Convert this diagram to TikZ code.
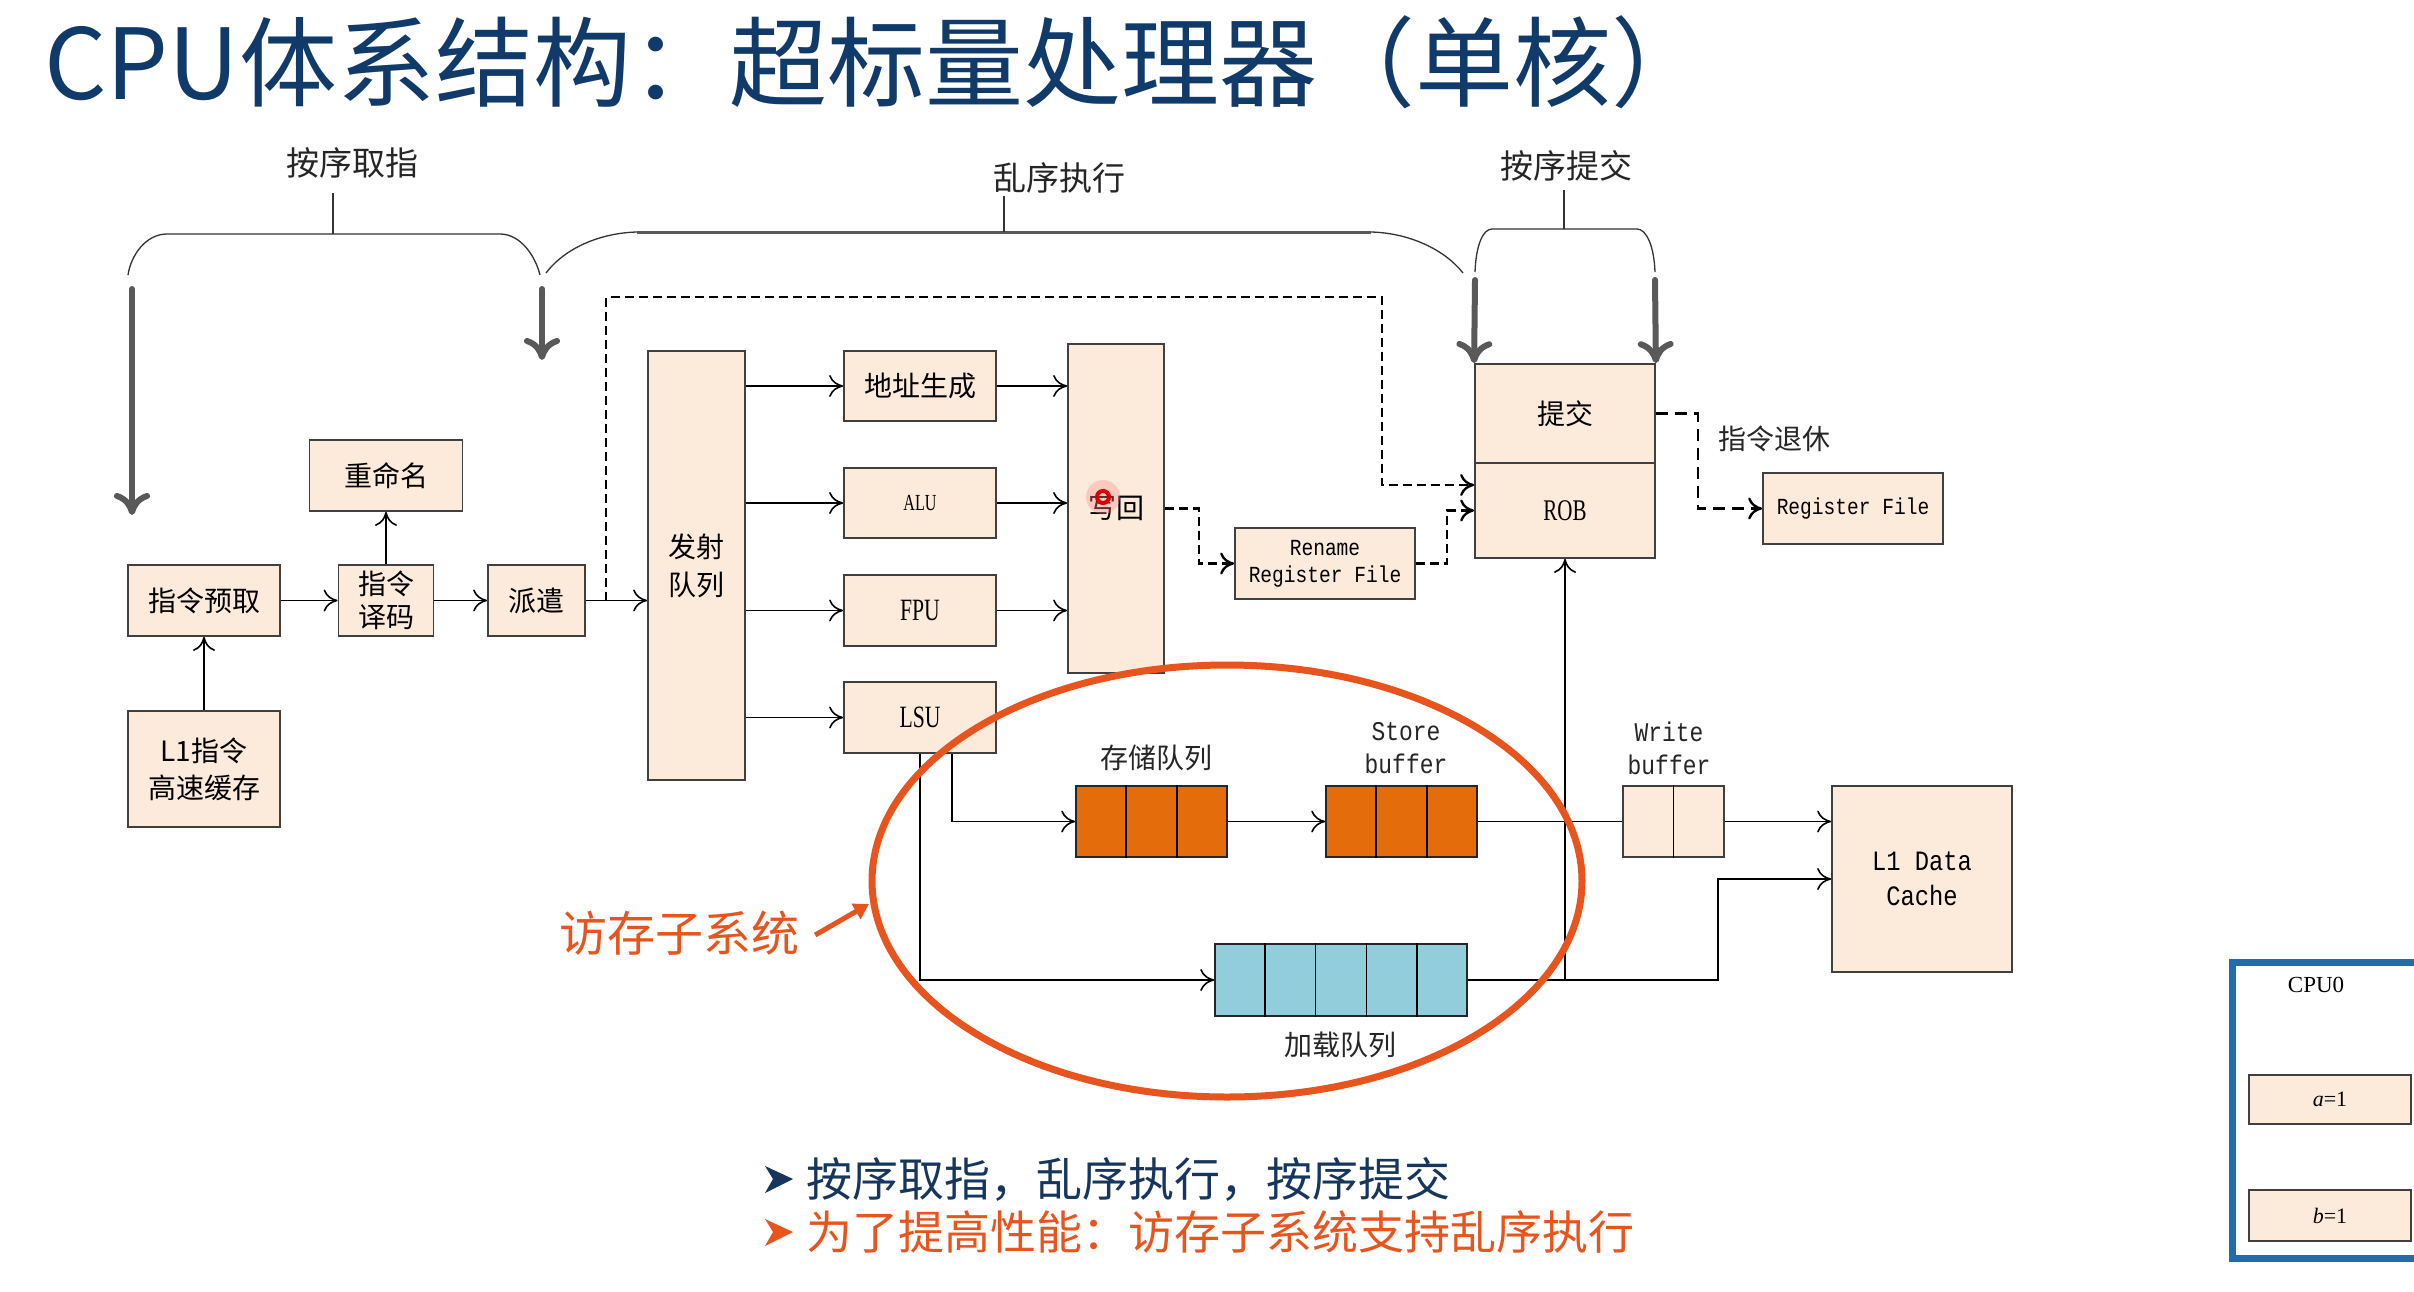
\documentclass[tikz,border=0pt]{standalone}
\usepackage{fontspec}
\setmainfont{Liberation Serif}
\newfontfamily\cjk{Noto Sans CJK SC}
\newfontfamily\monofam[FakeStretch=0.85]{Liberation Mono}
\newfontfamily\narrowserif[FakeStretch=0.7]{Liberation Serif}
\usetikzlibrary{arrows.meta,calc}

\definecolor{boxfill}{RGB}{252,234,218}
\definecolor{boxline}{RGB}{64,64,64}
\definecolor{titleblue}{RGB}{16,58,105}
\definecolor{navy}{RGB}{23,54,93}
\definecolor{hiorange}{RGB}{232,84,29}
\definecolor{qorange}{RGB}{228,108,10}
\definecolor{qblue}{RGB}{146,205,220}
\definecolor{arrowgray}{RGB}{89,89,89}
\definecolor{cpublue}{RGB}{31,108,176}

\newcommand{\fsz}[2]{\fontsize{#1}{#2}\selectfont}

\begin{document}
\begin{tikzpicture}[x=1pt,y=-1pt,
  unitbox/.style={draw=boxline, fill=boxfill, line width=1.8pt, inner sep=0pt,
    align=center, font=\cjk\fsz{28}{33}},
  queuebox/.style={draw=black!85, line width=1.6pt, inner sep=0pt},
  flow/.style={line width=1.6pt, -{Computer Modern Rightarrow[length=14pt,width=22pt]}},
  plainline/.style={line width=1.6pt},
  dashflow/.style={line width=2.4pt, dash pattern=on 9pt off 5pt,
    -{Computer Modern Rightarrow[length=14pt,width=22pt]}},
  bigarrow/.style={line width=6pt, arrowgray, line cap=round,
    -{Computer Modern Rightarrow[length=22pt,width=36pt]}},
  bracket/.style={line width=1.3pt, black!80},
  phase/.style={font=\cjk\fsz{33}{36}, text=black!85, inner sep=0pt},
  qlabel/.style={font=\cjk\fsz{28}{33}, text=black!85, inner sep=0pt},
  buflabel/.style={font=\monofam\fsz{27}{33}, text=black!85, inner sep=0pt, align=center},
]
\fill[white] (0,0) rectangle (2414,1292);
\useasboundingbox (0,0) rectangle (2414,1292);

% ---------- title ----------
\node[anchor=west, inner sep=0pt, text=titleblue, font=\cjk\fsz{98}{102}]
  (title) at (44,62) {CPU体系结构：超标量处理器（单核）};

% ---------- front end ----------
\node[unitbox, minimum width=152pt, minimum height=71pt] (fetch) at (204,600.5) {指令预取};
\node[unitbox, minimum width=152pt, minimum height=116pt, font=\cjk\fsz{28}{37}] (l1i) at (204,769) {L1指令\\高速缓存};
\node[unitbox, minimum width=95pt, minimum height=71pt] (decode) at (386,600.5) {指令\\译码};
\node[unitbox, minimum width=153pt, minimum height=71pt] (rename) at (386,475.5) {重命名};
\node[unitbox, minimum width=97pt, minimum height=71pt] (dispatch) at (536.5,600.5) {派遣};
\node[unitbox, minimum width=97pt, minimum height=429pt, font=\cjk\fsz{28}{38}] (issue) at (696.5,565.5) {发射\\队列};

% ---------- execution units ----------
\node[unitbox, minimum width=152pt, minimum height=70pt] (agu) at (920,386) {地址生成};
\node[unitbox, minimum width=152pt, minimum height=70pt, font=\narrowserif\fsz{23}{26}] (alu) at (920,503) {ALU};
\node[unitbox, minimum width=152pt, minimum height=71pt, font=\narrowserif\fsz{31}{34}] (fpu) at (920,610.5) {FPU};
\node[unitbox, minimum width=152pt, minimum height=71pt, font=\narrowserif\fsz{31}{34}] (lsu) at (920,717.5) {LSU};
\node[unitbox, minimum width=96pt, minimum height=329pt] (wb) at (1116,508.5) {写回};

% ---------- rename / retire ----------
\node[unitbox, minimum width=180pt, minimum height=71pt, font=\monofam\fsz{23}{27}] (rrf) at (1325,563.5) {Rename\\Register File};
\node[unitbox, minimum width=180pt, minimum height=99pt] (commit) at (1565,413.5) {提交};
\node[unitbox, minimum width=180pt, minimum height=95pt, font=\narrowserif\fsz{30}{34}] (rob) at (1565,510.5) {ROB};
\node[unitbox, minimum width=180pt, minimum height=71pt, font=\monofam\fsz{23}{27}] (rf) at (1853,508.5) {Register File};
\node[phase, font=\cjk\fsz{28}{32}] (retire) at (1774,439) {指令退休};

% ---------- memory subsystem ----------
\node[queuebox, fill=qorange, minimum width=151pt, minimum height=71pt] (sq) at (1151.5,821.5) {};
\node[queuebox, fill=qorange, minimum width=151pt, minimum height=71pt] (sb) at (1401.5,821.5) {};
\node[queuebox, fill=boxfill, draw=boxline, minimum width=101pt, minimum height=71pt] (wbuf) at (1673.5,821.5) {};
\node[queuebox, fill=qblue, minimum width=252pt, minimum height=72pt] (lq) at (1341,980) {};
\node[unitbox, minimum width=180pt, minimum height=186pt, font=\monofam\fsz{28}{35}] (l1d) at (1922,879) {L1 Data\\Cache};

\foreach \f in {1/3,2/3} {
  \draw[line width=1.6pt] ($(sq.north west)!\f!(sq.north east)$) -- ($(sq.south west)!\f!(sq.south east)$);
  \draw[line width=1.6pt] ($(sb.north west)!\f!(sb.north east)$) -- ($(sb.south west)!\f!(sb.south east)$);
}
\draw[line width=1.6pt] (wbuf.north) -- (wbuf.south);
\foreach \f in {1/5,2/5,3/5,4/5}
  \draw[line width=1.6pt] ($(lq.north west)!\f!(lq.north east)$) -- ($(lq.south west)!\f!(lq.south east)$);

\node[qlabel] (sqlabel) at (1156,758) {存储队列};
\node[buflabel] (sblabel) at (1406,748) {Store\\buffer};
\node[buflabel] (wblabel) at (1669,748) {Write\\buffer};
\node[qlabel] (lqlabel) at (1340,1045) {加载队列};

% ---------- pipeline phase brackets ----------
\node[phase] (inorderfetch) at (352,163) {按序取指};
\node[phase] (ooo) at (1059,178) {乱序执行};
\node[phase] (inordercommit) at (1566,166) {按序提交};

\draw[bracket] (128,275) .. controls (131,255) and (146,234) .. (167,234) -- (500,234)
  .. controls (520,234) and (535,255) .. (540,275);
\draw[bracket] (333,234) -- (333,193);
\draw[bracket] (546,273) .. controls (565,248) and (600,233) .. (637,232);
\draw[line width=3pt, arrowgray] (637,232) -- (1371,232);
\draw[bracket] (1371,232) .. controls (1410,233) and (1445,250) .. (1463,273);
\draw[bracket] (1004,232) -- (1004,196);
\draw[bracket] (1475,272) .. controls (1476,245) and (1483,229) .. (1492,229) -- (1637,229)
  .. controls (1646,229) and (1654,245) .. (1655,272);
\draw[bracket] (1564,229) -- (1564,190);

\coordinate (g1s) at (132,289);
\coordinate (g1e) at (132,515);
\coordinate (g2s) at (542,289);
\coordinate (g2e) at (542,360);
\coordinate (g3s) at (1475,280);
\coordinate (g4s) at (1655,280);
\draw[bigarrow] (g1s) -- (g1e);
\draw[bigarrow] (g2s) -- (g2e);
\draw[bigarrow] (g3s) -- (commit.north west);
\draw[bigarrow] (g4s) -- (commit.north east);

% ---------- front-end connectors ----------
\draw[flow] (l1i.north) -- (fetch.south);
\draw[flow] (fetch.east) -- (decode.west);
\draw[flow] (decode.north) -- (rename.south);
\draw[flow] (decode.east) -- (dispatch.west);
\draw[flow] (dispatch.east) -- (dispatch.east -| issue.west);

\coordinate (d0) at (606,600.5);
\coordinate (d1) at (606,297);
\coordinate (d2) at (1382,297);
\coordinate (d3) at (1382,485);
\draw[dashflow] (d0) -- (d1) -- (d2) -- (d3) -- (d3 -| rob.west);

% ---------- issue to units to write-back ----------
\foreach \u in {agu,alu,fpu,lsu}
  \draw[flow] (issue.east |- \u.west) -- (\u.west);
\foreach \u in {agu,alu,fpu}
  \draw[flow] (\u.east) -- (\u.east -| wb.west);

\draw[dashflow] (wb.east) -- ++(34,0) |- (rrf.west);
\draw[dashflow] (rrf.east) -- ++(31,0) |- (rob.west);
\draw[dashflow, dash pattern=on 12pt off 7pt] (commit.east) -- ++(42,0) |- (rf.west);

% ---------- memory connectors ----------
\draw[flow] ($(lsu.south)+(32,0)$) |- (sq.west);
\draw[flow] (lsu.south) |- (lq.west);
\draw[flow] (sq.east) -- (sb.west);
\draw[plainline] (sb.east) -- (wbuf.west);
\draw[flow] (wbuf.east) -- (wbuf.east -| l1d.west);
\coordinate (lturn) at (1718,980);
\draw[flow] (lq.east) -- (lturn) |- (l1d.west);
\coordinate (rtap) at (1565,980);
\draw[flow] (rtap) -- (rob.south);

% ---------- pointer dot ----------
\fill[red!45, opacity=0.35] (1103,497) circle[radius=17pt];
\draw[red!85!black, line width=4pt] (1103,497) circle[radius=6pt];

% ---------- memory subsystem highlight ----------
\draw[hiorange, line width=7pt] (1227,881) ellipse[x radius=355pt, y radius=216pt];
\node[inner sep=0pt, text=hiorange, font=\cjk\fsz{48}{52}] (subsys) at (679,933) {访存子系统};
\coordinate (ptr) at (869,904);
\draw[hiorange, line width=5pt, -{Triangle[length=15pt,width=17pt]}] ($(subsys.east)+(16,2)$) -- (ptr);

% ---------- bullet points ----------
\fill[navy] (765,1166) -- (793,1179) -- (765,1193) -- (773,1179) -- cycle;
\fill[hiorange] (765,1219) -- (793,1232) -- (765,1246) -- (773,1232) -- cycle;
\node[anchor=west, inner sep=0pt, text=navy, font=\cjk\fsz{46}{50}] (pt1) at (806,1179) {按序取指，乱序执行，按序提交};
\node[anchor=west, inner sep=0pt, text=hiorange, font=\cjk\fsz{46}{50}] (pt2) at (806,1232) {为了提高性能：访存子系统支持乱序执行};

% ---------- CPU0 panel ----------
\draw[cpublue, line width=7pt] (2232,962) rectangle (2460,1258);
\node[inner sep=0pt, font=\fsz{23}{26}] (cpu0) at (2316,985) {CPU0};
\node[draw=boxline, fill=boxfill, line width=1.8pt, inner sep=0pt, minimum width=162pt,
  minimum height=49pt, font=\fsz{22}{26}] (avar) at (2330,1099.5) {\textit{a}=1};
\node[draw=boxline, fill=boxfill, line width=1.8pt, inner sep=0pt, minimum width=162pt,
  minimum height=51pt, font=\fsz{22}{26}] (bvar) at (2330,1215.5) {\textit{b}=1};
\end{tikzpicture}
\end{document}
